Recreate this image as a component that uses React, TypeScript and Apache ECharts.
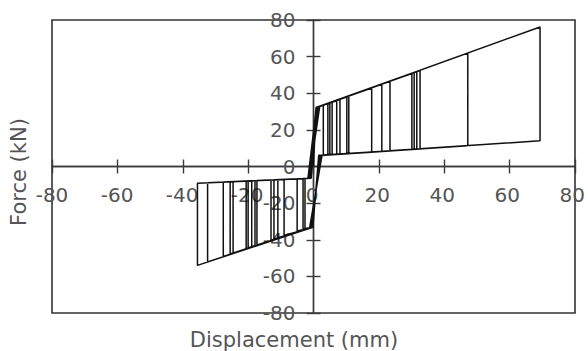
import React, { useEffect, useRef } from "react";
import * as echarts from "echarts";

// Positive half-cycles: peak displacement, force at peak, force after unloading
const posPeakDisp = [3.0, 4.4, 5.0, 5.7, 7.1, 8.1, 10.2, 10.8, 17.8, 20.9, 23.4, 30.1, 30.8, 31.6, 32.6, 47.2, 69.3];
const posPeakForce = [33.3, 34.2, 34.6, 35.0, 35.9, 36.6, 38.0, 38.3, 42.9, 44.9, 46.5, 50.8, 51.3, 51.8, 52.4, 61.9, 76.2];
const posUnloadForce = [6.1, 6.2, 6.3, 6.4, 6.5, 6.7, 6.9, 7.0, 7.8, 8.2, 8.5, 9.3, 9.4, 9.5, 9.6, 11.3, 14.0];
const posLowerEndDisp = [1.6, 2.0, 2.4, 1.8, 2.2, 2.6, 1.7, 2.1, 2.5, 1.9, 2.3, 1.6, 2.0, 2.4, 1.8, 2.2, 2.6];
const posLowerEndForce = [6.0, 6.0, 6.1, 6.0, 6.0, 6.1, 6.0, 6.0, 6.1, 6.0, 6.0, 6.1, 6.0, 6.1, 6.0, 6.0, 6.1];
const posYieldDisp = [0.8, 1.2, 1.6, 1.0, 1.4, 1.9, 0.9, 1.3, 1.7, 1.1, 1.5, 0.8, 1.2, 1.6, 1.0, 1.4, 1.9];
const posYieldForce = [32.3, 32.5, 32.7, 32.4, 32.6, 32.8, 32.3, 32.5, 32.7, 32.4, 32.6, 32.3, 32.5, 32.7, 32.4, 32.6, 32.8];

// Negative half-cycles
const negPeakDisp = [-2.6, -3.2, -5.0, -9.0, -10.9, -12.1, -13.0, -17.3, -17.9, -18.9, -20.0, -20.6, -24.6, -25.5, -27.6, -32.4, -35.5];
const negPeakForce = [-33.8, -34.1, -35.2, -37.7, -38.9, -39.6, -40.2, -42.8, -43.2, -43.8, -44.5, -44.8, -47.3, -47.8, -49.1, -52.1, -54.0];
const negUnloadForce = [-6.5, -6.6, -6.7, -7.1, -7.2, -7.3, -7.4, -7.7, -7.8, -7.9, -7.9, -8.0, -8.3, -8.3, -8.5, -8.9, -9.2];
const negUpperEndDisp = [-0.7, -1.1, -1.5, -0.9, -1.3, -1.7, -0.8, -1.2, -1.6, -1.0, -1.4, -0.7, -1.1, -1.5, -0.9, -1.3, -1.7];
const negUpperEndForce = [-6.4, -6.4, -6.5, -6.4, -6.4, -6.5, -6.4, -6.4, -6.5, -6.4, -6.4, -6.4, -6.4, -6.5, -6.4, -6.4, -6.5];
const negYieldDisp = [-0.2, -0.6, -1.0, -0.4, -0.8, -1.2, -0.3, -0.7, -1.1, -0.5, -0.9, -0.2, -0.6, -1.0, -0.4, -0.8, -1.2];
const negYieldForce = [-33.2, -33.4, -33.6, -33.3, -33.5, -33.7, -33.2, -33.4, -33.6, -33.3, -33.5, -33.2, -33.4, -33.6, -33.3, -33.5, -33.7];

const axisTicks = [-80, -60, -40, -20, 0, 20, 40, 60, 80];

function buildPath(): number[][] {
  const pts: number[][] = [[0, 0]];
  for (let i = 0; i < posPeakDisp.length; i++) {
    pts.push([posYieldDisp[i], posYieldForce[i]]);
    pts.push([posPeakDisp[i], posPeakForce[i]]);
    pts.push([posPeakDisp[i], posUnloadForce[i]]);
    pts.push([posLowerEndDisp[i], posLowerEndForce[i]]);
    pts.push([negYieldDisp[i], negYieldForce[i]]);
    pts.push([negPeakDisp[i], negPeakForce[i]]);
    pts.push([negPeakDisp[i], negUnloadForce[i]]);
    pts.push([negUpperEndDisp[i], negUpperEndForce[i]]);
  }
  return pts;
}

const FONT = "DejaVu Sans";
const TXT = "#555";
const AXC = "#3a3a3a";

export default function App() {
  const ref = useRef<HTMLDivElement>(null);
  useEffect(() => {
    document.body.style.margin = "0";
    if (!ref.current) return;
    const chart = echarts.init(ref.current, undefined, { renderer: "svg" });
    const min = axisTicks[0];
    const max = axisTicks[axisTicks.length - 1];
    const interval = axisTicks[1] - axisTicks[0];
    const lbl = { fontFamily: FONT, fontSize: 20, color: TXT, showMinLabel: true, showMaxLabel: true };
    const lineAx = { color: AXC, width: 1.4 };
    const base = { type: "value", min, max, interval, splitLine: { show: false } };
    const hidden = { ...base, show: false };
    chart.setOption({
      animation: false,
      backgroundColor: "#fff",
      grid: [
        { left: 52, right: 13, top: 20, bottom: 38, show: true, borderColor: "#333", borderWidth: 1.6 },
        { left: 52, right: 13, top: 20, bottom: 184.5, show: false },
        { left: 313.5, right: 13, top: 20, bottom: 38, show: false },
      ],
      xAxis: [
        {
          ...base, gridIndex: 0,
          axisLine: { onZero: true, onZeroAxisIndex: 0, lineStyle: lineAx },
          axisTick: { show: true, inside: false, length: 7, lineStyle: lineAx },
          axisLabel: { show: false },
        },
        {
          ...base, gridIndex: 0, position: "bottom",
          axisLine: { onZero: true, onZeroAxisIndex: 0, lineStyle: lineAx },
          axisTick: { show: true, inside: true, length: 7, lineStyle: lineAx },
          axisLabel: { show: false },
        },
        {
          ...base, gridIndex: 1, position: "bottom",
          axisLine: { show: false },
          axisTick: { show: false },
          axisLabel: { ...lbl, margin: 18 },
        },
        { ...hidden, gridIndex: 2 },
      ],
      yAxis: [
        {
          ...base, gridIndex: 0,
          axisLine: { onZero: true, onZeroAxisIndex: 0, lineStyle: lineAx },
          axisTick: { show: true, inside: false, length: 7, lineStyle: lineAx },
          axisLabel: { show: false },
        },
        {
          ...base, gridIndex: 0, position: "left",
          axisLine: { onZero: true, onZeroAxisIndex: 0, lineStyle: lineAx },
          axisTick: { show: true, inside: true, length: 7, lineStyle: lineAx },
          axisLabel: { show: false },
        },
        { ...hidden, gridIndex: 1 },
        {
          ...base, gridIndex: 2, position: "left",
          axisLine: { show: false },
          axisTick: { show: false },
          axisLabel: { ...lbl, margin: 18 },
        },
      ],
      graphic: [
        {
          type: "text", left: "center", x: 0, top: 329,
          style: { text: "Displacement (mm)", font: `21px "${FONT}"`, fill: TXT },
          z: 10,
        },
        {
          type: "text", x: 8, y: 172, rotation: Math.PI / 2,
          style: { text: "Force (kN)", font: `21px "${FONT}"`, fill: TXT, textAlign: "center", textVerticalAlign: "top" },
          z: 10,
        },
      ],
      series: [
        {
          type: "line",
          xAxisIndex: 0,
          yAxisIndex: 0,
          data: buildPath(),
          showSymbol: false,
          symbol: "none",
          lineStyle: { color: "#111", width: 1.5 },
          z: 5,
        },
      ],
    });
    return () => chart.dispose();
  }, []);
  return <div ref={ref} style={{ width: 588, height: 351 }} />;
}
